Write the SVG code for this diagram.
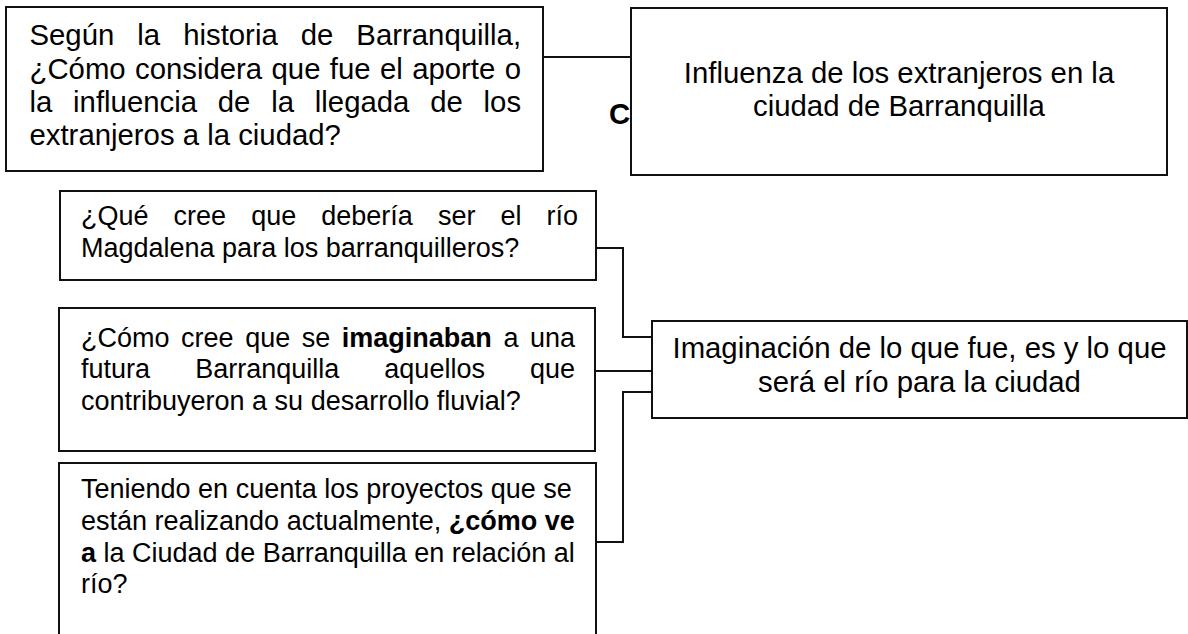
<svg xmlns="http://www.w3.org/2000/svg" width="1188" height="634" viewBox="0 0 1188 634">
<style>
.box{fill:#fff;stroke:#111;stroke-width:2}
.conn{fill:none;stroke:#111;stroke-width:2}
.tu{font-family:"Liberation Sans",Arial,sans-serif;font-size:29.33px;fill:#000}
.tl{font-family:"Liberation Sans",Arial,sans-serif;font-size:27px;fill:#000}
.b{font-weight:bold}
.c{text-anchor:middle}
</style>
<rect width="1188" height="634" fill="#fff"/>
<text class="tu b" x="609" y="124">C</text>
<g id="connectors">
<path class="conn" d="M543,57 H631"/>
<path class="conn" d="M596,248 H623 V337 H652"/>
<path class="conn" d="M595,371 H652"/>
<path class="conn" d="M596,542 H623 V392 H652"/>
</g>
<g id="n1">
<rect class="box" x="6" y="7" width="537" height="164"/>
<text class="tu" x="29.5" y="45" word-spacing="14.87">Según la historia de Barranquilla,</text>
<text class="tu" x="29.5" y="79" word-spacing="1.21">¿Cómo considera que fue el aporte o</text>
<text class="tu" x="29.5" y="112" word-spacing="12.63">la influencia de la llegada de los</text>
<text class="tu" x="29.5" y="145">extranjeros a la ciudad?</text>
</g>
<g id="n2">
<rect class="box" x="631" y="8" width="536" height="167"/>
<text class="tu c" x="899" y="83">Influenza de los extranjeros en la</text>
<text class="tu c" x="899" y="116">ciudad de Barranquilla</text>
</g>
<g id="n3">
<rect class="box" x="60" y="191" width="536" height="89"/>
<text class="tl" x="81" y="225" word-spacing="17.56">¿Qué cree que debería ser el río</text>
<text class="tl" x="81" y="257">Magdalena para los barranquilleros?</text>
</g>
<g id="n4">
<rect class="box" x="59" y="308" width="536" height="143"/>
<text class="tl" x="81" y="347" word-spacing="4.05">¿Cómo cree que se <tspan class="b">imaginaban</tspan> a una</text>
<text class="tl" x="81" y="378" word-spacing="37.6">futura Barranquilla aquellos que</text>
<text class="tl" x="81" y="410">contribuyeron a su desarrollo fluvial?</text>
</g>
<g id="n5">
<rect class="box" x="652" y="321" width="535" height="97"/>
<text class="tu c" x="919.5" y="358">Imaginación de lo que fue, es y lo que</text>
<text class="tu c" x="919.5" y="392">será el río para la ciudad</text>
</g>
<g id="n6">
<rect class="box" x="59" y="463" width="537" height="185"/>
<text class="tl" x="81" y="498">Teniendo en cuenta los proyectos que se</text>
<text class="tl" x="81" y="530">están realizando actualmente, <tspan class="b">¿cómo ve</tspan></text>
<text class="tl" x="81" y="562"><tspan class="b">a</tspan> la Ciudad de Barranquilla en relación al</text>
<text class="tl" x="81" y="593">río?</text>
</g>
</svg>
